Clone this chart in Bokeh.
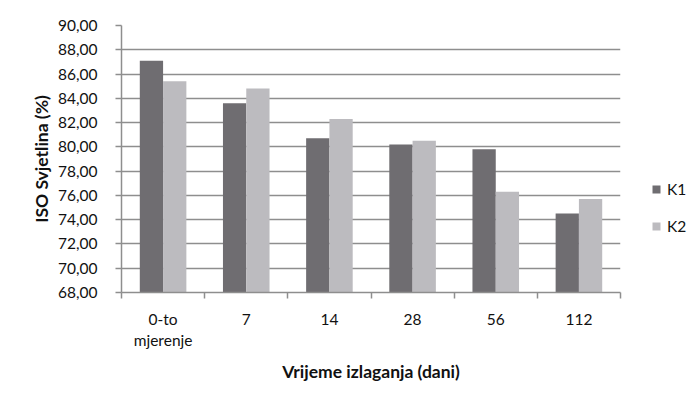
from bokeh.plotting import figure
from bokeh.models import (ColumnDataSource, Range1d, LinearAxis,
                          FixedTicker, Legend, LegendItem)
from bokeh.transform import dodge
from bokeh.embed import file_html
from bokeh.resources import INLINE

categories = ["0-to\nmjerenje", "7", "14", "28", "56", "112"]
k1 = [87.1, 83.6, 80.7, 80.2, 79.8, 74.5]
k2 = [85.4, 84.8, 82.3, 80.5, 76.3, 75.7]
y_ticks = [68, 70, 72, 74, 76, 78, 80, 82, 84, 86, 88, 90]
y_tick_labels = ["68,00", "70,00", "72,00", "74,00", "76,00", "78,00",
                 "80,00", "82,00", "84,00", "86,00", "88,00", "90,00"]
series_names = ["K1", "K2"]
series_colors = ["#6f6d71", "#bcbbbf"]

FONT = "Lato"
GRID = "#8e8e8e"
TXT = "#111111"

n = len(categories)
centers = [i + 0.5 for i in range(n)]
edges = list(range(n + 1))

src = ColumnDataSource(dict(x=centers, k1=k1, k2=k2))

p = figure(x_range=Range1d(0, n), y_range=Range1d(y_ticks[0], y_ticks[-1]),
           frame_width=499, frame_height=267,
           min_border_left=121, min_border_top=25, min_border_right=64, min_border_bottom=10,
           output_backend="svg", toolbar_location=None,
           x_axis_location=None, y_axis_location=None)
p.outline_line_color = None
p.background_fill_color = "white"
p.border_fill_color = "white"

x_axis = LinearAxis(ticker=FixedTicker(ticks=centers, minor_ticks=edges))
x_axis.axis_line_color = GRID
x_axis.axis_line_width = 1.5
x_axis.major_tick_line_color = None
x_axis.major_tick_out = 0
x_axis.major_tick_in = 0
x_axis.minor_tick_line_color = GRID
x_axis.minor_tick_line_width = 1.5
x_axis.minor_tick_out = 6
x_axis.minor_tick_in = 0
x_axis.major_label_overrides = dict(zip(centers, categories))
x_axis.major_label_text_font = FONT
x_axis.major_label_text_font_size = "15.5px"
x_axis.major_label_text_color = TXT
x_axis.major_label_standoff = 11
x_axis.axis_label = "Vrijeme izlaganja (dani)"
x_axis.axis_label_text_font = FONT
x_axis.axis_label_text_font_style = "bold"
x_axis.axis_label_text_font_size = "17.5px"
x_axis.axis_label_text_color = TXT
x_axis.axis_label_standoff = 9
p.add_layout(x_axis, "below")

y_axis = LinearAxis(ticker=FixedTicker(ticks=y_ticks))
y_axis.major_label_overrides = dict(zip(y_ticks, y_tick_labels))
y_axis.major_tick_out = 6
y_axis.major_tick_in = 0
y_axis.minor_tick_line_color = None
y_axis.major_tick_line_color = GRID
y_axis.major_tick_line_width = 1.5
y_axis.axis_line_color = GRID
y_axis.axis_line_width = 1.5
y_axis.major_label_standoff = 18
y_axis.major_label_text_font = FONT
y_axis.major_label_text_font_size = "15.5px"
y_axis.major_label_text_color = TXT
y_axis.axis_label = "ISO Svjetlina (%)"
y_axis.axis_label_text_font = FONT
y_axis.axis_label_text_font_style = "bold"
y_axis.axis_label_text_font_size = "17.5px"
y_axis.axis_label_text_color = TXT
y_axis.axis_label_standoff = 3
p.add_layout(y_axis, "left")

p.ygrid.grid_line_color = GRID
p.ygrid.grid_line_width = 1.5
p.ygrid.ticker = FixedTicker(ticks=y_ticks)
p.xgrid.grid_line_color = None

bw = 0.28
r1 = p.vbar(x=dodge("x", -bw / 2), top="k1", bottom=y_ticks[0], width=bw,
            source=src, fill_color=series_colors[0], line_color=None)
r2 = p.vbar(x=dodge("x", bw / 2), top="k2", bottom=y_ticks[0], width=bw,
            source=src, fill_color=series_colors[1], line_color=None)

legend = Legend(items=[LegendItem(label=series_names[0], renderers=[r1]),
                       LegendItem(label=series_names[1], renderers=[r2])],
                location=(31, 57))
legend.border_line_color = None
legend.background_fill_alpha = 0
legend.padding = 0
legend.margin = 0
legend.glyph_width = 10
legend.glyph_height = 10
legend.label_standoff = 6
legend.spacing = 19
legend.label_text_font = FONT
legend.label_text_font_size = "15.5px"
legend.label_text_color = TXT
p.add_layout(legend, "right")

open("out.html", "w").write(file_html(p, INLINE))
